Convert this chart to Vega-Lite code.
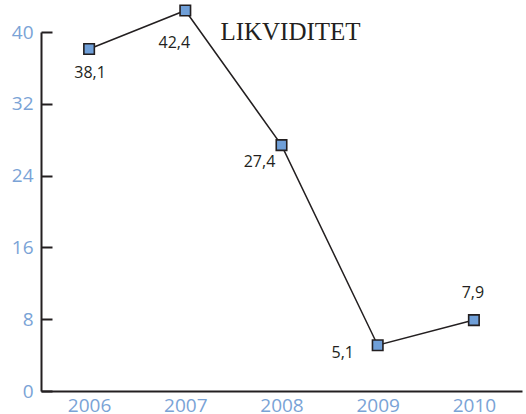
{
  "$schema": "https://vega.github.io/schema/vega-lite/v6.json",
  "autosize": "none",
  "width": 481,
  "height": 359,
  "padding": {"left": 41, "top": 32, "right": 4, "bottom": 23},
  "background": "white",
  "config": {
    "view": {"stroke": null},
    "locale": {"number": {"decimal": ",", "thousands": " ", "grouping": [3], "currency": ["", " kr"]}}
  },
  "title": {
    "text": "LIKVIDITET",
    "font": "Liberation Serif",
    "fontSize": 25,
    "fontWeight": "normal",
    "color": "#231f20",
    "anchor": "middle",
    "frame": "group",
    "dx": 9,
    "dy": 47
  },
  "data": {
    "values": [
      {"year": "2006", "value": 38.1},
      {"year": "2007", "value": 42.4},
      {"year": "2008", "value": 27.4},
      {"year": "2009", "value": 5.1},
      {"year": "2010", "value": 7.9}
    ]
  },
  "encoding": {
    "x": {
      "field": "year",
      "type": "ordinal",
      "scale": {"type": "point", "padding": 0.5},
      "axis": {
        "title": null,
        "labelAngle": 0,
        "ticks": false,
        "domainColor": "#231f20",
        "domainWidth": 2,
        "labelColor": "#7aa3d6",
        "labelFont": "Open Sans",
        "labelFontSize": 19,
        "labelPadding": 5
      }
    },
    "y": {
      "field": "value",
      "type": "quantitative",
      "scale": {"domain": [0, 40], "nice": false},
      "axis": {
        "title": null,
        "values": [0, 8, 16, 24, 32, 40],
        "grid": false,
        "tickSize": -11,
        "tickWidth": 2,
        "tickColor": "#231f20",
        "domainColor": "#231f20",
        "domainWidth": 2,
        "labelColor": "#7aa3d6",
        "labelFont": "Open Sans",
        "labelFontSize": 19,
        "labelPadding": 19
      }
    }
  },
  "layer": [
    {"mark": {"type": "line", "color": "#231f20", "strokeWidth": 1.5}},
    {"mark": {"type": "point", "shape": "square", "size": 110, "filled": true, "fill": "#6f9fd8", "stroke": "#231f20", "strokeWidth": 1.6, "opacity": 1}},
    {"transform": [{"filter": "datum.year == '2006'"}], "mark": {"type": "text", "dx": 1, "dy": 24, "font": "Open Sans", "fontSize": 16, "color": "#231f20"}, "encoding": {"text": {"field": "value", "type": "quantitative", "format": ".1f"}}},
    {"transform": [{"filter": "datum.year == '2007'"}], "mark": {"type": "text", "dx": -11, "dy": 33, "font": "Open Sans", "fontSize": 16, "color": "#231f20"}, "encoding": {"text": {"field": "value", "type": "quantitative", "format": ".1f"}}},
    {"transform": [{"filter": "datum.year == '2008'"}], "mark": {"type": "text", "dx": -22, "dy": 17, "font": "Open Sans", "fontSize": 16, "color": "#231f20"}, "encoding": {"text": {"field": "value", "type": "quantitative", "format": ".1f"}}},
    {"transform": [{"filter": "datum.year == '2009'"}], "mark": {"type": "text", "dx": -35, "dy": 8, "font": "Open Sans", "fontSize": 16, "color": "#231f20"}, "encoding": {"text": {"field": "value", "type": "quantitative", "format": ".1f"}}},
    {"transform": [{"filter": "datum.year == '2010'"}], "mark": {"type": "text", "dx": -1, "dy": -27, "font": "Open Sans", "fontSize": 16, "color": "#231f20"}, "encoding": {"text": {"field": "value", "type": "quantitative", "format": ".1f"}}}
  ]
}
